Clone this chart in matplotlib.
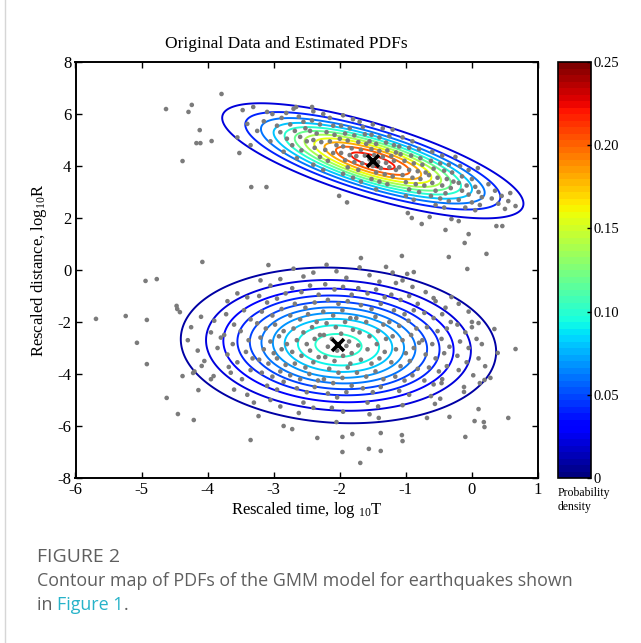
import numpy as np
import matplotlib
matplotlib.use('Agg')
import matplotlib.pyplot as plt
from matplotlib.colors import Normalize
from matplotlib.cm import ScalarMappable
from matplotlib.lines import Line2D

plt.rcParams['font.family'] = 'Liberation Serif'
plt.rcParams['mathtext.fontset'] = 'custom'
plt.rcParams['mathtext.rm'] = 'Liberation Serif'
plt.rcParams['mathtext.it'] = 'Liberation Serif:italic'
plt.rcParams['mathtext.default'] = 'regular'
plt.rcParams['axes.unicode_minus'] = False

# GMM components
UPPER_MEAN = (-1.5, 4.2)
UPPER_SIG = (1.03, 1.0)
UPPER_RHO = -0.745
LOWER_MEAN = (-2.02, -2.9)
LOWER_SIG = (1.1, 1.38)
LOWER_RHO = -0.08

UPPER_LEVELS = [0.02, 0.04, 0.06, 0.08, 0.10, 0.12, 0.14, 0.16, 0.18, 0.20, 0.22]
LOWER_LEVELS = [0.01, 0.02, 0.03, 0.04, 0.05, 0.06, 0.07, 0.08, 0.09, 0.10]

CBAR_TICKS = [0, 0.05, 0.10, 0.15, 0.20, 0.25]
CBAR_LABELS = ['0', '0.05', '0.10', '0.15', '0.20', '0.25']
X_TICKS = [-6, -5, -4, -3, -2, -1, 0, 1]
Y_TICKS = [-8, -6, -4, -2, 0, 2, 4, 6, 8]

# earthquakes, upper cluster (log10 T, log10 R)
UPPER_PTS = [
    (-3.47, 6.15), (-3.31, 6.27), (-3.10, 6.08), (-3.02, 6.00), (-3.40, 5.62), (-3.25, 5.35),
    (-3.55, 5.10), (-3.15, 5.72), (-2.95, 5.55), (-3.05, 4.95), (-3.35, 4.80),
    (-2.81, 6.04), (-2.70, 6.20), (-2.88, 5.85), (-2.62, 5.90), (-2.75, 5.60), (-2.55, 5.70),
    (-2.90, 5.30), (-2.68, 5.35), (-2.52, 5.45), (-2.80, 5.05), (-2.60, 5.12), (-2.72, 4.80),
    (-2.50, 4.95), (-2.85, 4.55), (-2.58, 4.60), (-2.65, 4.30), (-2.66, 6.27), (-2.42, 6.27),
    (-2.40, 6.10), (-2.25, 6.00), (-2.15, 5.85), (-2.42, 5.75), (-2.30, 5.60), (-2.10, 5.55),
    (-2.45, 5.35), (-2.35, 5.25), (-2.20, 5.30), (-2.08, 5.20), (-2.40, 5.00), (-2.28, 4.92),
    (-2.15, 4.95), (-2.05, 4.80), (-2.38, 4.70), (-2.22, 4.62), (-2.10, 4.50), (-2.30, 4.35),
    (-2.18, 4.20), (-2.40, 4.05), (-2.25, 3.85),
    (-1.95, 5.95), (-1.80, 5.80), (-1.70, 5.70), (-1.98, 5.55), (-1.85, 5.45), (-1.65, 5.50),
    (-1.92, 5.25), (-1.78, 5.18), (-1.62, 5.22), (-2.00, 5.05), (-1.88, 4.98), (-1.72, 4.92),
    (-1.60, 4.85), (-1.95, 4.75), (-1.82, 4.68), (-1.68, 4.62), (-1.98, 4.50), (-1.85, 4.42),
    (-1.75, 4.38), (-1.62, 4.40), (-1.92, 4.22), (-1.78, 4.15), (-1.66, 4.10), (-1.88, 3.95),
    (-1.72, 3.85), (-1.95, 3.70), (-1.80, 3.55), (-1.68, 3.40),
    (-1.50, 5.60), (-1.35, 5.45), (-1.20, 5.40), (-1.52, 5.20), (-1.40, 5.10), (-1.25, 5.15),
    (-1.55, 4.95), (-1.45, 4.85), (-1.30, 4.90), (-1.18, 4.80), (-1.52, 4.65), (-1.40, 4.58),
    (-1.28, 4.60), (-1.15, 4.52), (-1.48, 4.42), (-1.35, 4.35), (-1.22, 4.38), (-1.55, 4.25),
    (-1.42, 4.15), (-1.30, 4.12), (-1.18, 4.20), (-1.50, 4.00), (-1.38, 3.92), (-1.25, 3.95),
    (-1.15, 3.85), (-1.45, 3.75), (-1.32, 3.68), (-1.20, 3.60), (-1.52, 3.50), (-1.40, 3.40),
    (-1.28, 3.30), (-1.45, 3.10),
    (-1.05, 5.10), (-0.90, 4.95), (-1.10, 4.75), (-0.95, 4.70), (-0.80, 4.65), (-1.08, 4.45),
    (-0.92, 4.40), (-0.78, 4.30), (-1.02, 4.20), (-0.88, 4.10), (-0.75, 4.05), (-1.10, 3.95),
    (-0.95, 3.85), (-0.82, 3.80), (-0.70, 3.75), (-1.05, 3.65), (-0.90, 3.55), (-0.78, 3.50),
    (-1.00, 3.38), (-0.85, 3.30), (-0.72, 3.25), (-0.95, 3.10), (-0.80, 3.00), (-1.00, 2.85),
    (-0.88, 2.70),
    (-0.60, 4.55), (-0.45, 4.40), (-0.62, 4.20), (-0.48, 4.10), (-0.35, 4.05), (-0.58, 3.90),
    (-0.42, 3.82), (-0.30, 3.75), (-0.65, 3.65), (-0.52, 3.55), (-0.38, 3.50), (-0.28, 3.40),
    (-0.60, 3.35), (-0.45, 3.25), (-0.32, 3.15), (-0.55, 3.05), (-0.40, 2.95), (-0.62, 2.85),
    (-0.48, 2.75), (-0.35, 2.65), (-0.55, 2.50), (-0.42, 2.40),
    (-0.18, 4.00), (-0.05, 3.85), (-0.15, 3.60), (0.00, 3.50), (-0.20, 3.35), (-0.08, 3.25),
    (0.05, 3.20), (-0.15, 3.05), (0.10, 3.00), (-0.05, 2.90), (0.15, 2.80), (-0.20, 2.70),
    (0.00, 2.60), (0.12, 2.50), (-0.10, 2.40), (0.05, 2.30),
    (0.25, 3.30), (0.35, 3.05), (0.30, 2.75), (0.45, 2.85), (0.40, 2.55), (0.58, 2.96),
    (0.55, 2.65), (0.66, 2.46), (0.50, 2.35),
    (-3.79, 6.77), (-4.63, 6.19), (-4.24, 6.35), (-4.29, 6.08), (-4.12, 5.38), (-4.17, 4.88),
    (-4.11, 4.88), (-3.94, 4.96), (-4.38, 4.19), (-3.52, 4.50), (-3.34, 3.19), (-3.11, 3.19),
    (-2.01, 2.85), (-1.89, 2.60), (-0.05, 1.38), (-0.76, 1.77), (0.37, 1.69), (0.46, 1.69),
    (0.09, 3.92), (-0.25, 4.35), (-0.91, 2.00), (-0.97, 2.19), (-0.64, 2.04), (-0.31, 1.96),
    (-0.20, 1.88), (-0.40, 1.54),
]

# earthquakes, lower cluster
LOWER_PTS = [
    (-4.25, -2.20), (-4.10, -1.80), (-4.30, -2.70), (-4.15, -3.10), (-3.95, -2.40), (-4.05, -3.50),
    (-3.90, -1.95), (-3.85, -3.00), (-4.20, -3.90), (-3.95, -4.20), (-3.80, -2.60),
    (-3.70, -1.20), (-3.55, -0.90), (-3.40, -1.05), (-3.72, -1.70), (-3.60, -2.10), (-3.45, -1.55),
    (-3.35, -1.90), (-3.75, -2.50), (-3.62, -2.85), (-3.50, -2.35), (-3.38, -2.70), (-3.70, -3.25),
    (-3.55, -3.55), (-3.42, -3.15), (-3.32, -3.40), (-3.65, -3.95), (-3.48, -4.20), (-3.35, -3.85),
    (-3.60, -4.60), (-3.40, -4.80), (-3.30, -5.10),
    (-3.20, -0.40), (-3.05, -0.60), (-2.90, -0.35), (-3.22, -1.00), (-3.10, -1.25), (-2.95, -1.10),
    (-2.82, -0.90), (-3.18, -1.60), (-3.02, -1.75), (-2.88, -1.50), (-3.25, -2.05), (-3.12, -2.25),
    (-2.98, -2.10), (-2.85, -2.35), (-3.20, -2.60), (-3.05, -2.75), (-2.92, -2.55), (-2.80, -2.85),
    (-3.15, -3.05), (-3.00, -3.20), (-2.88, -3.05), (-3.22, -3.45), (-3.08, -3.60), (-2.95, -3.40),
    (-2.82, -3.65), (-3.18, -3.95), (-3.02, -4.10), (-2.90, -3.90), (-3.10, -4.45), (-2.95, -4.60),
    (-2.85, -4.30), (-3.05, -5.00), (-2.90, -5.25),
    (-2.70, 0.05), (-2.55, -0.25), (-2.40, -0.10), (-2.72, -0.70), (-2.58, -0.85), (-2.45, -0.60),
    (-2.32, -0.95), (-2.68, -1.30), (-2.52, -1.45), (-2.38, -1.25), (-2.75, -1.75), (-2.60, -1.90),
    (-2.48, -1.70), (-2.35, -2.00), (-2.70, -2.25), (-2.55, -2.40), (-2.42, -2.20), (-2.30, -2.50),
    (-2.65, -2.70), (-2.50, -2.85), (-2.38, -2.65), (-2.72, -3.15), (-2.58, -3.30), (-2.45, -3.10),
    (-2.32, -3.35), (-2.68, -3.60), (-2.52, -3.75), (-2.40, -3.55), (-2.75, -4.05), (-2.60, -4.20),
    (-2.46, -4.00), (-2.33, -4.25), (-2.65, -4.55), (-2.50, -4.70), (-2.38, -4.50), (-2.55, -5.10),
    (-2.40, -5.30), (-2.62, -5.50),
    (-2.20, 0.20), (-2.05, -0.05), (-1.90, -0.30), (-2.22, -0.55), (-2.08, -0.75), (-1.95, -0.65),
    (-1.82, -0.95), (-2.18, -1.15), (-2.02, -1.30), (-1.88, -1.20), (-2.25, -1.60), (-2.10, -1.75),
    (-1.96, -1.55), (-1.84, -1.85), (-2.20, -2.05), (-2.06, -2.20), (-1.92, -2.00), (-1.80, -2.30),
    (-2.24, -2.50), (-2.12, -2.65), (-1.98, -2.45), (-1.86, -2.75), (-2.18, -2.95), (-2.04, -3.10),
    (-1.90, -2.92), (-1.82, -3.20), (-2.22, -3.35), (-2.08, -3.50), (-1.95, -3.30), (-1.84, -3.60),
    (-2.16, -3.80), (-2.02, -3.95), (-1.88, -3.75), (-2.24, -4.20), (-2.10, -4.35), (-1.96, -4.15),
    (-1.82, -4.45), (-2.18, -4.75), (-2.04, -4.90), (-1.90, -4.70), (-2.12, -5.30), (-1.95, -5.45),
    (-2.05, -5.85),
    (-1.70, 0.10), (-1.55, -0.20), (-1.40, -0.45), (-1.72, -0.70), (-1.58, -0.90), (-1.45, -0.75),
    (-1.32, -1.05), (-1.68, -1.35), (-1.52, -1.50), (-1.38, -1.30), (-1.75, -1.85), (-1.60, -2.00),
    (-1.46, -1.80), (-1.34, -2.10), (-1.70, -2.40), (-1.55, -2.55), (-1.42, -2.35), (-1.30, -2.65),
    (-1.72, -2.90), (-1.58, -3.05), (-1.44, -2.85), (-1.32, -3.15), (-1.68, -3.45), (-1.52, -3.60),
    (-1.40, -3.40), (-1.74, -3.95), (-1.60, -4.10), (-1.46, -3.90), (-1.34, -4.20), (-1.65, -4.55),
    (-1.50, -4.70), (-1.38, -4.50), (-1.58, -5.10), (-1.42, -5.25), (-1.55, -5.55),
    (-1.20, -0.10), (-1.05, -0.40), (-0.90, -0.65), (-1.22, -0.95), (-1.08, -1.15), (-0.95, -1.00),
    (-0.82, -1.30), (-1.18, -1.55), (-1.02, -1.70), (-0.88, -1.55), (-1.25, -2.00), (-1.10, -2.15),
    (-0.96, -1.95), (-0.84, -2.25), (-1.20, -2.55), (-1.05, -2.70), (-0.92, -2.50), (-0.80, -2.80),
    (-1.15, -3.05), (-1.00, -3.20), (-0.88, -3.00), (-1.22, -3.55), (-1.08, -3.70), (-0.94, -3.50),
    (-0.82, -3.80), (-1.16, -4.10), (-1.02, -4.25), (-0.90, -4.05), (-1.10, -4.65), (-0.95, -4.80),
    (-1.05, -5.20),
    (-0.70, -0.85), (-0.55, -1.20), (-0.40, -1.45), (-0.72, -1.65), (-0.58, -1.85), (-0.45, -1.70),
    (-0.32, -2.00), (-0.68, -2.20), (-0.52, -2.35), (-0.38, -2.25), (-0.75, -2.70), (-0.60, -2.85),
    (-0.46, -2.65), (-0.34, -2.95), (-0.70, -3.25), (-0.55, -3.40), (-0.42, -3.20), (-0.65, -3.75),
    (-0.50, -3.90), (-0.38, -3.70), (-0.72, -4.25), (-0.58, -4.40), (-0.45, -4.20), (-0.62, -4.85),
    (-0.48, -4.95),
    (-0.20, -1.30), (-0.05, -1.60), (-0.22, -2.10), (-0.10, -2.40), (0.00, -2.20), (-0.18, -2.75),
    (-0.05, -3.00), (0.15, -2.85), (-0.22, -3.30), (-0.08, -3.55), (0.10, -3.40), (-0.20, -3.85),
    (0.02, -4.05), (-0.12, -4.50), (0.20, -3.70),
    (-4.08, 0.31), (-3.08, 0.19), (-4.94, -0.42), (-4.77, -0.35), (-5.69, -1.88), (-5.24, -1.77),
    (-4.92, -1.92), (-5.07, -2.80), (-4.47, -1.38), (-4.46, -1.50), (-4.42, -1.62), (-4.92, -3.62),
    (-4.38, -4.08), (-4.22, -3.96), (-4.09, -3.69), (-3.91, -4.08), (-4.14, -4.62), (-4.62, -4.92),
    (-4.45, -5.54), (-4.21, -5.77), (-3.35, -6.54), (-3.68, -3.73), (-2.85, -6.00), (-2.72, -6.12),
    (-3.23, -5.62), (-2.34, -6.46), (-1.96, -6.42), (-1.81, -6.31), (-1.96, -7.00), (-1.56, -6.88),
    (-1.38, -6.96), (-1.69, -7.42), (-1.38, -6.27), (-1.06, -6.35), (-1.05, -6.58), (-1.41, -5.69),
    (-0.68, -5.69), (-0.34, -5.65), (-0.10, -6.42), (0.04, -5.81), (0.18, -5.85), (0.19, -6.04),
    (0.10, -5.35), (0.55, -5.69), (-0.56, -5.15), (-0.12, -4.69), (0.12, -4.35), (0.19, -4.23),
    (0.28, -4.15), (-0.46, -4.35), (-0.11, 1.04), (-1.06, 0.54), (-1.68, 0.46), (-0.35, 0.50),
    (0.22, 0.62), (-1.30, 0.12), (-0.07, 0.04), (-0.98, -0.15), (-0.88, -0.08), (-1.15, -0.50),
    (-0.58, -1.08), (-0.31, -1.04), (0.00, -2.00), (0.10, -2.04), (0.34, -2.27), (0.07, -2.65),
    (0.66, -3.04), (0.39, -3.19),
]


def gauss2d(X, Y, mean, sig, rho):
    dx = (X - mean[0]) / sig[0]
    dy = (Y - mean[1]) / sig[1]
    q = (dx**2 - 2 * rho * dx * dy + dy**2) / (1 - rho**2)
    return np.exp(-q / 2) / (2 * np.pi * sig[0] * sig[1] * np.sqrt(1 - rho**2))


W, H = 641, 643
fig = plt.figure(figsize=(W / 100, H / 100), dpi=100)
ax = fig.add_axes([75.5 / W, 1 - 478 / H, 462.5 / W, 416 / H])
cax = fig.add_axes([558 / W, 1 - 478 / H, 33 / W, 416 / H])

cmap = plt.get_cmap('jet', 64)
norm = Normalize(0, 0.25)

gx = np.linspace(-6, 1, 600)
gy = np.linspace(-8, 8, 700)
X, Y = np.meshgrid(gx, gy)
ax.contour(X, Y, gauss2d(X, Y, UPPER_MEAN, UPPER_SIG, UPPER_RHO),
           levels=UPPER_LEVELS, cmap=cmap, norm=norm, linewidths=1.4)
ax.contour(X, Y, gauss2d(X, Y, LOWER_MEAN, LOWER_SIG, LOWER_RHO),
           levels=LOWER_LEVELS, cmap=cmap, norm=norm, linewidths=1.4)

pts = np.array(UPPER_PTS + LOWER_PTS)
ax.scatter(pts[:, 0], pts[:, 1], s=11, color='#7b7b7b', edgecolors='none', zorder=3)
ax.plot([UPPER_MEAN[0], LOWER_MEAN[0]], [UPPER_MEAN[1], LOWER_MEAN[1]], 'x',
        color='black', ms=8, mew=2.6, zorder=4)

ax.set_xlim(-6, 1)
ax.set_ylim(-8, 8)
ax.set_xticks(X_TICKS)
ax.set_xticklabels([str(v) for v in X_TICKS])
ax.set_yticks(Y_TICKS)
ax.set_yticklabels([str(v) for v in Y_TICKS])
ax.tick_params(direction='in', top=True, right=True, length=4, width=1,
               labelsize=12, pad=3)
for sp in ax.spines.values():
    sp.set_linewidth(1.4)
ax.set_xlabel(r'Rescaled time, log $_{10}$T', fontsize=12, labelpad=1)
ax.set_ylabel(r'Rescaled distance, log$_{10}$R', fontsize=12, labelpad=6)
fig.text(286 / W, 1 - 44 / H, 'Original Data and Estimated PDFs', fontsize=12.5,
         ha='center', va='center')

cb = fig.colorbar(ScalarMappable(norm=norm, cmap=cmap), cax=cax, ticks=CBAR_TICKS)
cb.ax.set_yticklabels(CBAR_LABELS)
cb.ax.tick_params(direction='in', length=3, width=1, labelsize=10.5, pad=2)
cb.outline.set_linewidth(1.2)
fig.text(558 / W, 1 - 500 / H, 'Probability\ndensity', fontsize=8.5,
         ha='left', va='center', linespacing=1.3)

# caption block
cap_col = '#5f5f5f'
fig.text(37 / W, 1 - 557 / H, 'FIGURE 2', family='Open Sans', fontsize=14,
         color=cap_col, va='center')
fig.text(37 / W, 1 - 581 / H,
         'Contour map of PDFs of the GMM model for earthquakes shown',
         family='Open Sans', fontsize=12.9, color=cap_col, va='center')
renderer = fig.canvas.get_renderer()
t1 = fig.text(37 / W, 1 - 605 / H, 'in ', family='Open Sans', fontsize=12.9,
              color=cap_col, va='center')
x1 = t1.get_window_extent(renderer).x1 / W
t2 = fig.text(x1, 1 - 605 / H, 'Figure 1', family='Open Sans', fontsize=12.9,
              color='#27b3c9', va='center')
x2 = t2.get_window_extent(renderer).x1 / W
fig.text(x2, 1 - 605 / H, '.', family='Open Sans', fontsize=12.9, color=cap_col,
         va='center')

fig.add_artist(Line2D([4.5 / W, 4.5 / W], [0, 1], transform=fig.transFigure,
                      color='#d6d6d6', lw=1))

fig.savefig('out.png', dpi=100)
